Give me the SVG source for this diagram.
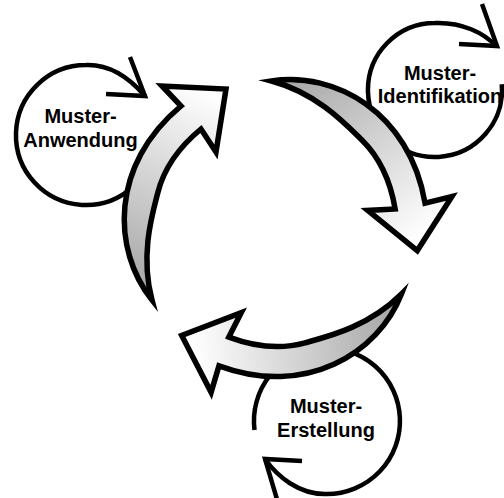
<svg xmlns="http://www.w3.org/2000/svg" width="504" height="498" viewBox="0 0 504 498">
  <style>
    .loop { fill: none; stroke: #000; stroke-width: 4.5; }
    .tip { fill: none; stroke: #000; stroke-width: 4.5; stroke-linejoin: miter; stroke-miterlimit: 10; }
    .label { font-family: "Liberation Sans", Arial, sans-serif; font-weight: bold; font-size: 20px; fill: #000; text-anchor: middle; }
    .flow { fill: url(#flowFill); stroke: #000; stroke-width: 5.5; stroke-linejoin: miter; stroke-miterlimit: 10; }
  </style>
  <defs>
    <!-- grey tail fading to a white head, in the arrow's own coordinates -->
    <linearGradient id="flowFill" gradientUnits="userSpaceOnUse" x1="132" y1="280" x2="215" y2="95">
      <stop offset="0" stop-color="#a8a8a8"/>
      <stop offset="1" stop-color="#ffffff"/>
    </linearGradient>
    <!-- crescent-shaped curved block arrow; the other two are rotated copies -->
    <path id="flowArrow" d="M152,300 C112,250 110,165 181,106 L162,86 L226,89 L216,152 L201,129 C184,143 165,165 158,192 C152,215 140,255 152,300 Z"/>
  </defs>

  <g id="node-anwendung">
    <path class="loop" d="M155.7,141.1 A70,70 0 1 1 86,65 C113,64 133,82 145,96"/>
    <path class="tip" d="M130,57 L145,96 L106,94"/>
    <text class="label" x="80.5" y="123">Muster-</text>
    <text class="label" x="80.5" y="147">Anwendung</text>
  </g>

  <g id="node-identifikation">
    <path class="loop" d="M501.7,84.2 A67,67 0 1 1 435,23 C462,22 484,33 496,46"/>
    <path class="tip" d="M482,4 L497,46 L459,44"/>
    <text class="label" x="440" y="79.5">Muster-</text>
    <text class="label" x="440" y="103">Identifikation</text>
  </g>

  <g id="node-erstellung">
    <path class="loop" d="M254.5,429.9 A73,73 0 1 1 327,494 C299,495 277,476 265,459"/>
    <path class="tip" d="M302,461 L265,459 L279,506"/>
    <text class="label" x="326" y="413">Muster-</text>
    <text class="label" x="326" y="437">Erstellung</text>
  </g>

  <g id="connectors">
    <use class="flow" href="#flowArrow"/>
    <use class="flow" href="#flowArrow" transform="rotate(120 275 225)"/>
    <use class="flow" href="#flowArrow" transform="rotate(240 275 225)"/>
  </g>
</svg>
